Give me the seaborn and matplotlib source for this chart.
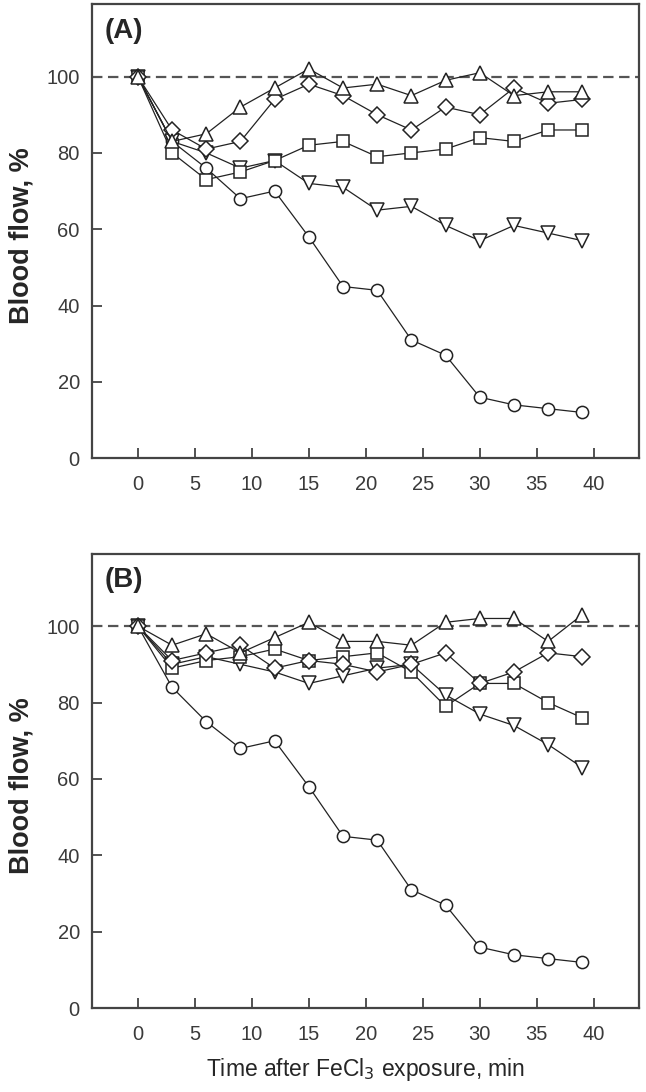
import numpy as np
import pandas as pd
import matplotlib
matplotlib.use("Agg")
import matplotlib.pyplot as plt
import seaborn as sns

# ---- data ----
time_min = [0, 3, 6, 9, 12, 15, 18, 21, 24, 27, 30, 33, 36, 39]

a_circle   = [100, 83, 76, 68, 70, 58, 45, 44, 31, 27, 16, 14, 13, 12]
a_tri_down = [100, 83, 80, 76, 78, 72, 71, 65, 66, 61, 57, 61, 59, 57]
a_square   = [100, 80, 73, 75, 78, 82, 83, 79, 80, 81, 84, 83, 86, 86]
a_diamond  = [100, 86, 81, 83, 94, 98, 95, 90, 86, 92, 90, 97, 93, 94]
a_tri_up   = [100, 83, 85, 92, 97, 102, 97, 98, 95, 99, 101, 95, 96, 96]

b_circle   = [100, 84, 75, 68, 70, 58, 45, 44, 31, 27, 16, 14, 13, 12]
b_tri_down = [100, 90, 92, 90, 88, 85, 87, 89, 90, 82, 77, 74, 69, 63]
b_square   = [100, 89, 91, 92, 94, 91, 92, 93, 88, 79, 85, 85, 80, 76]
b_diamond  = [100, 91, 93, 95, 89, 91, 90, 88, 90, 93, 85, 88, 93, 92]
b_tri_up   = [100, 95, 98, 93, 97, 101, 96, 96, 95, 101, 102, 102, 96, 103]

panel_labels = ["(A)", "(B)"]
x_ticks = [0, 5, 10, 15, 20, 25, 30, 35, 40]
y_ticks = [0, 20, 40, 60, 80, 100]
baseline = 100

sns.set_style("ticks")
plt.rcParams["font.family"] = ["Liberation Sans", "DejaVu Sans"]
plt.rcParams["lines.scale_dashes"] = False

fig = plt.figure(figsize=(6.46, 10.92), dpi=100)
W, H = 646, 1092
def add_ax(left, top, right, bottom):
    return fig.add_axes([left / W, 1 - bottom / H, (right - left) / W, (bottom - top) / H])

axA = add_ax(92.3, 4, 639.3, 458.3)
axB = add_ax(92.3, 553.5, 639.3, 1008.3)

marker_style = {
    "o": 8.8, "v": 9.5, "s": 8.0, "D": 8.3, "^": 9.5,
}

panels = [
    (axA, [(a_circle, "o"), (a_tri_down, "v"), (a_square, "s"), (a_diamond, "D"), (a_tri_up, "^")]),
    (axB, [(b_circle, "o"), (b_tri_down, "v"), (b_square, "s"), (b_diamond, "D"), (b_tri_up, "^")]),
]

for i, (ax, series) in enumerate(panels):
    ax.axhline(baseline, color="#555555", lw=1.6, linestyle=(0, (7.5, 4)), zorder=1)
    for vals, m in series:
        sns.lineplot(x=time_min, y=vals, ax=ax, color="#222222", lw=0.9,
                     marker=m, markersize=marker_style[m], markerfacecolor="white",
                     markeredgecolor="#222222", markeredgewidth=1.1, zorder=3)
    ax.set_xlim(-4, 44)
    ax.set_ylim(0, 119)
    ax.set_xticks(x_ticks)
    ax.set_yticks(y_ticks)
    ax.tick_params(direction="in", length=7, width=1.2, color="#333333",
                   labelsize=14.5, labelcolor="#3a3a3a")
    ax.tick_params(axis="x", pad=12)
    ax.tick_params(axis="y", pad=9)
    for s in ax.spines.values():
        s.set_color("#444444")
        s.set_linewidth(1.6)
        s.set_visible(True)
    ax.set_ylabel("Blood flow, %", fontsize=19.5, fontweight="bold", va="center")
    ax.yaxis.set_label_coords(-0.13, 0.49)
    ax.set_xlabel("")
    ax.text(-2.9, 112, panel_labels[i], fontsize=20, fontweight="bold", ha="left", va="center")
    ax.grid(False)

axB.set_xlabel("Time after FeCl$_3$ exposure, min", fontsize=16.5, labelpad=9)

fig.savefig("out.png", dpi=100)
